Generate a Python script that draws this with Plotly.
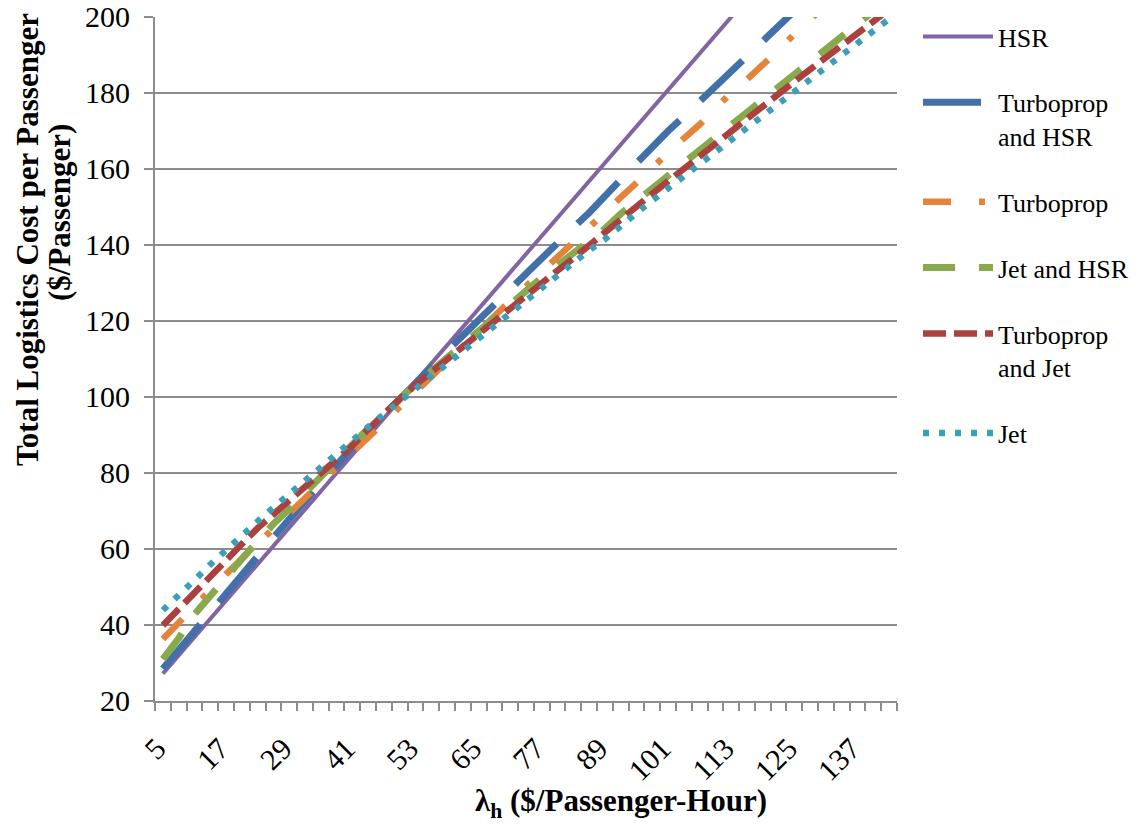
import plotly.graph_objects as go

# Category values (lambda_h, $/passenger-hour)
lam = [5, 8, 11, 14, 17, 20, 23, 26, 29, 32, 35, 38, 41, 44, 47, 50, 53, 56, 59, 62,
       65, 68, 71, 74, 77, 80, 83, 86, 89, 92, 95, 98, 101, 104, 107, 110, 113, 116, 119, 122,
       125, 128, 131, 134, 137, 140, 143]

hsr = [27.2, 32.0, 36.8, 41.6, 46.4, 51.2, 56.0, 60.8, 65.6, 70.4,
       75.2, 80.0, 84.8, 89.6, 94.4, 99.2, 104.0, 108.8, 113.6, 118.4,
       123.2, 128.0, 132.8, 137.6, 142.4, 147.2, 152.0, 156.8, 161.6, 166.4,
       171.2, 176.0, 180.8, 185.6, 190.4, 195.2, 200.0, 204.8, 209.6, 214.4,
       219.2, 224.0, 228.8, 233.6, 238.4, 243.2, 248.0]

turboprop_hsr = [28.5, 33.5, 38.3, 43.6, 48.5, 53.4, 58.2, 63.0, 67.8, 72.6,
                 77.4, 82.2, 86.8, 91.0, 95.3, 99.3, 104.1, 108.1, 112.1, 116.2,
                 120.3, 124.5, 128.7, 132.7, 136.6, 140.5, 144.6, 148.5, 152.6, 157.2,
                 161.5, 166.0, 170.0, 173.8, 177.8, 181.6, 185.5, 189.6, 193.8, 197.6,
                 201.4, 205.4, 209.4, 213.4, 217.4, 221.4, 225.4]

turboprop = [36.3, 40.4, 44.8, 49.2, 53.4, 57.4, 61.4, 65.5, 69.6, 73.3,
             77.3, 81.4, 85.6, 89.5, 93.3, 97.4, 101.8, 105.6, 109.5, 113.4,
             117.4, 121.4, 125.3, 129.1, 132.9, 136.7, 140.6, 144.6, 148.7, 152.4,
             156.1, 160.2, 164.4, 168.0, 171.7, 175.8, 180.2, 183.6, 187.2, 191.3,
             195.5, 199.5, 203.3, 207.1, 210.9, 214.7, 218.5]

jet_hsr = [31.0, 36.5, 42.8, 47.8, 53.0, 57.4, 62.0, 66.6, 70.5, 74.8,
           79.1, 83.5, 87.8, 91.7, 95.5, 99.5, 103.4, 106.8, 110.4, 114.0,
           117.4, 121.1, 124.6, 127.9, 131.4, 134.6, 137.8, 141.2, 144.3, 148.2,
           151.6, 155.1, 158.4, 161.8, 165.0, 168.3, 171.6, 174.9, 178.4, 181.7,
           184.9, 188.2, 191.5, 194.9, 198.2, 201.5, 204.8]

turboprop_jet = [39.9, 44.3, 48.7, 52.9, 57.1, 61.3, 65.5, 69.2, 72.9, 76.7,
                 80.0, 83.5, 87.2, 91.5, 95.6, 99.5, 103.2, 106.6, 110.0, 113.4,
                 116.4, 120.0, 123.4, 126.6, 130.0, 133.3, 136.5, 140.0, 143.0, 146.8,
                 150.1, 153.5, 156.8, 160.2, 163.4, 166.6, 169.9, 173.2, 176.6, 179.8,
                 183.0, 186.2, 189.3, 192.6, 195.8, 198.9, 202.0]

jet = [43.9, 47.7, 51.8, 55.9, 59.8, 63.6, 67.3, 70.9, 74.5, 78.1,
       81.6, 85.0, 88.6, 92.1, 95.5, 98.8, 102.3, 105.6, 109.0, 112.4,
       115.5, 119.0, 122.4, 125.6, 129.0, 132.2, 135.3, 138.6, 141.5, 145.2,
       148.4, 151.7, 154.9, 158.1, 161.2, 164.4, 167.6, 170.8, 174.1, 177.3,
       180.4, 183.6, 186.8, 190.0, 193.2, 196.3, 199.5]

x_tick_vals = [5, 17, 29, 41, 53, 65, 77, 89, 101, 113, 125, 137]
x_tick_text = [str(v) for v in x_tick_vals]
y_tick_vals = [20, 40, 60, 80, 100, 120, 140, 160, 180, 200]

series = [
    ("HSR", hsr, "#8165A2", 4, "solid"),
    ("Turboprop<br>and HSR", turboprop_hsr, "#4271AA", 7, "58px,29px"),
    ("Turboprop", turboprop, "#E3843A", 6.5, "28px,28px,6px,28px"),
    ("Jet and HSR", jet_hsr, "#89AA4C", 7, "32px,24px"),
    ("Turboprop<br>and Jet", turboprop_jet, "#AA413E", 6.5, "23px,8px"),
    ("Jet", jet, "#3C9FBA", 6.3, "6px,10px"),
]

SERIF = '"Liberation Serif", "Times New Roman", serif'
GRID = "#8C8C8C"

# plot area lands at page x 155..897, y 17..701 (body margin removed below)
L, T = 155, 17
R, B = 1142 - 897, 825 - 701
PW, PH = 1142 - L - R, 825 - T - B


def px_x(page_x):
    return (page_x - L) / PW


def px_y(page_y):
    return (825 - B - page_y) / PH


fig = go.Figure()
for i, (name, vals, color, width, dash) in enumerate(series):
    fig.add_trace(go.Scatter(
        x=lam, y=vals, mode="lines", name=name, legendgroup=f"g{i}",
        line=dict(color=color, width=width, dash=dash),
    ))

fig.update_layout(
    width=1142, height=825,
    margin=dict(l=L, r=R, t=T, b=B, autoexpand=False),
    paper_bgcolor="white", plot_bgcolor="white",
    font=dict(family=SERIF, color="black", size=30),
    legend=dict(
        x=px_x(918), xanchor="left", y=px_y(13), yanchor="top",
        font=dict(family=SERIF, size=26, color="black"),
        tracegroupgap=29, valign="top", bgcolor="rgba(0,0,0,0)",
        maxheight=700, itemwidth=70,
    ),
    xaxis=dict(
        range=[3.5, 144.5], tickmode="array", tickvals=x_tick_vals, ticktext=x_tick_text,
        tickangle=-45, ticks="", showgrid=False, zeroline=False, automargin=False,
        showline=True, linecolor=GRID, linewidth=2,
        tickfont=dict(family=SERIF, size=30, color="black"),
        ticklabelstandoff=16, ticklabelshift=-6, ticklabeloverflow="allow",
        minor=dict(tick0=3.5, dtick=3, ticks="outside", ticklen=8, tickcolor=GRID,
                   tickwidth=2, showgrid=False),
    ),
    yaxis=dict(
        range=[20, 200], tickmode="array", tickvals=y_tick_vals, automargin=False,
        ticks="outside", ticklen=9, tickcolor=GRID, tickwidth=2,
        showgrid=True, gridcolor=GRID, gridwidth=2, zeroline=False,
        showline=True, linecolor=GRID, linewidth=2,
        tickfont=dict(family=SERIF, size=30, color="black"),
        ticklabelstandoff=8, ticklabeloverflow="allow", ticklabelshift=-1,
    ),
    annotations=[
        dict(text="<b>Total Logistics Cost per Passenger</b>", textangle=-90,
             xref="paper", yref="paper", x=px_x(27), y=px_y(240),
             xanchor="center", yanchor="middle", showarrow=False,
             font=dict(family=SERIF, size=31, color="black")),
        dict(text="<b>($/Passenger)</b>", textangle=-90,
             xref="paper", yref="paper", x=px_x(59), y=px_y(213),
             xanchor="center", yanchor="middle", showarrow=False,
             font=dict(family=SERIF, size=31, color="black")),
        dict(text="<b>λ<sub>h</sub> ($/Passenger-Hour)</b>",
             xref="paper", yref="paper", x=px_x(621), y=px_y(803),
             xanchor="center", yanchor="middle", showarrow=False,
             font=dict(family=SERIF, size=31, color="black")),
    ],
)

fig.write_html("out.html", config={"displayModeBar": False},
               post_script="document.body.style.margin='0px';")
